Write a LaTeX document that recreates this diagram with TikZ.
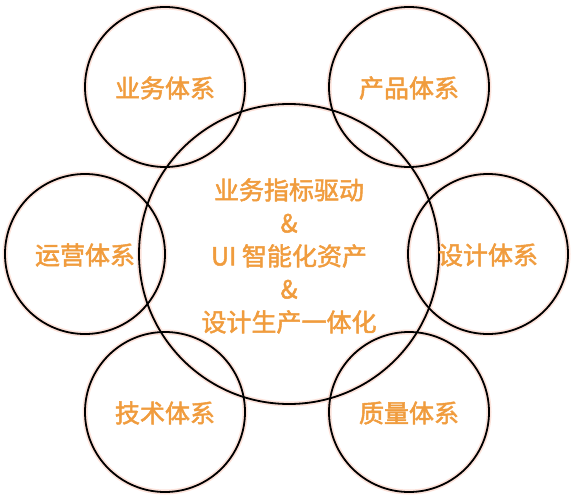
\documentclass[tikz,border=0pt]{standalone}
\usepackage{fontspec}
\newfontfamily\cjk{Noto Sans CJK SC}[FakeBold=2]
\definecolor{txt}{RGB}{240,156,62}
\definecolor{glow}{RGB}{252,226,218}
\begin{document}
\begin{tikzpicture}[x=1pt,y=-1pt,
  ringglow/.style={draw=glow,line width=5pt},
  ring/.style={draw=black,line width=1.8pt},
  lbl/.style={text=txt,font=\cjk\fontsize{25}{33}\selectfont,align=center}]
\useasboundingbox (0,0) rectangle (580,500);
\coordinate (c) at (289,254);
\coordinate (tl) at (165,87);
\coordinate (tr) at (409,87);
\coordinate (l) at (85,254);
\coordinate (r) at (488,254);
\coordinate (bl) at (165,412);
\coordinate (br) at (409,412);
% glow pass
\draw[ringglow] (c) circle (150pt);
\foreach \p in {tl,tr,l,r,bl,br}{\draw[ringglow] (\p) circle (80pt);}
% black pass
\draw[ring] (c) circle (150pt);
\foreach \p in {tl,tr,l,r,bl,br}{\draw[ring] (\p) circle (80pt);}
% labels
\foreach \p/\t in {tl/业务体系,tr/产品体系,l/运营体系,r/设计体系,bl/技术体系,br/质量体系}{
  \node[lbl] (t\p) at ([yshift=-1pt]\p) {\t};
}
\node[lbl] (tc) at ([yshift=-2pt]c) {业务指标驱动\\\&\\UI 智能化资产\\\&\\设计生产一体化};
\end{tikzpicture}
\end{document}
